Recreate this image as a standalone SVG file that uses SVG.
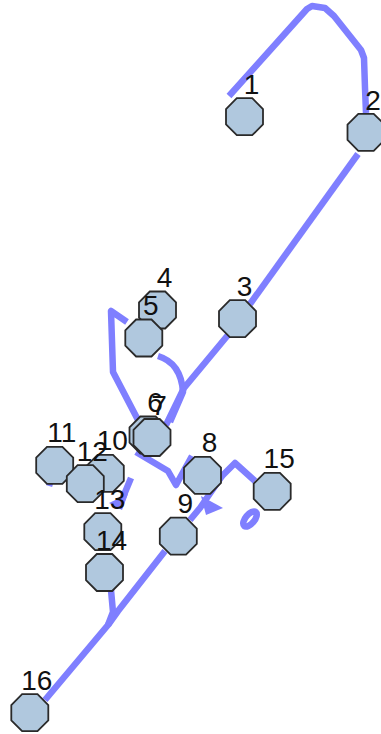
<svg xmlns="http://www.w3.org/2000/svg" xmlns:xlink="http://www.w3.org/1999/xlink" width="381" height="734" viewBox="0 0 381 734">
<style>
.e{fill:none;stroke:#7f7fff;stroke-width:6.5;stroke-linejoin:round;stroke-linecap:butt}
.a{fill:#7f7fff;stroke:none}
.n{fill:#b0c8de;stroke:#2a2a2a;stroke-width:1.8}
.l{font-family:"Liberation Sans",Arial,sans-serif;font-size:28px;fill:#111;text-anchor:middle}
</style>
<defs>
<polygon id="oct" points="7.7,-18.5 18.5,-7.7 18.5,7.7 7.7,18.5 -7.7,18.5 -18.5,7.7 -18.5,-7.7 -7.7,-18.5"/>
</defs>
<rect width="381" height="734" fill="#fff"/>
<g id="edges">
<path class="e" d="M229,96 L307,9 L312,6 L325,8 L334,16 L361,50 L364,58 L365,88 L366,113"/>
<path class="e" d="M358,154 L250,304"/>
<path class="e" d="M228,335 L184,388 L166,425"/>
<path class="e" d="M158,356 Q181,363 183,392 L170,422"/>
<path class="e" d="M127,322 L111,311 L113,372 L138,420"/>
<path class="e" d="M136,452 L168,471 L176,485 L192,456"/>
<path class="e" d="M220,478 L235,463 L255,481"/>
<path class="e" d="M222,476 L200,508 L190,520"/>
<polygon class="a" points="201,496 223,508 206,515"/>
<ellipse class="e" cx="250" cy="519" rx="9" ry="4.5" transform="rotate(-50 250 519)"/>
<path class="e" d="M131,478 L121,502"/>
<polygon class="a" points="109,503 128,494 122,510"/>
<path class="e" d="M54,470 L49,486"/>
<path class="e" d="M165,551 L118,611 L108,625 L45,700"/>
<path class="e" d="M111,590 L113,612 L108,625"/>
</g>
<g id="n1"><use xlink:href="#oct" class="n" x="244.5" y="116.7"/></g>
<g id="n2"><use xlink:href="#oct" class="n" x="366" y="132.3"/></g>
<g id="n3"><use xlink:href="#oct" class="n" x="237.5" y="318.7"/></g>
<g id="n4"><use xlink:href="#oct" class="n" x="157.5" y="310"/></g>
<g id="n5"><use xlink:href="#oct" class="n" x="143.8" y="338"/></g>
<g id="n6"><use xlink:href="#oct" class="n" x="148" y="435"/></g>
<g id="n7"><use xlink:href="#oct" class="n" x="152" y="437.5"/></g>
<g id="n8"><use xlink:href="#oct" class="n" x="202.5" y="475.3"/></g>
<g id="n9"><use xlink:href="#oct" class="n" x="178.3" y="536.2"/></g>
<g id="n11"><use xlink:href="#oct" class="n" x="54.7" y="465.3"/></g>
<g id="n10"><use xlink:href="#oct" class="n" x="105.3" y="473.3"/></g>
<g id="n12"><use xlink:href="#oct" class="n" x="85.3" y="483.7"/></g>
<g id="n13"><use xlink:href="#oct" class="n" x="102.8" y="531.7"/></g>
<g id="n14"><use xlink:href="#oct" class="n" x="104.5" y="572.5"/></g>
<g id="n15"><use xlink:href="#oct" class="n" x="272.2" y="491.3"/></g>
<g id="n16"><use xlink:href="#oct" class="n" x="29.8" y="712.7"/></g>
<g id="labels">
<text class="l" x="251.5" y="94">1</text>
<text class="l" x="373" y="109.5">2</text>
<text class="l" x="244.5" y="295.7">3</text>
<text class="l" x="164.5" y="287">4</text>
<text class="l" x="150.8" y="315">5</text>
<text class="l" x="155" y="412">6</text>
<text class="l" x="159" y="414.5">7</text>
<text class="l" x="209.5" y="452.3">8</text>
<text class="l" x="185.3" y="513.2">9</text>
<text class="l" x="112.3" y="450.3">10</text>
<text class="l" x="61.7" y="442.3">11</text>
<text class="l" x="92.3" y="460.7">12</text>
<text class="l" x="109.8" y="508.7">13</text>
<text class="l" x="111.5" y="549.5">14</text>
<text class="l" x="279.2" y="468.3">15</text>
<text class="l" x="36.8" y="689.7">16</text>
</g>
</svg>
